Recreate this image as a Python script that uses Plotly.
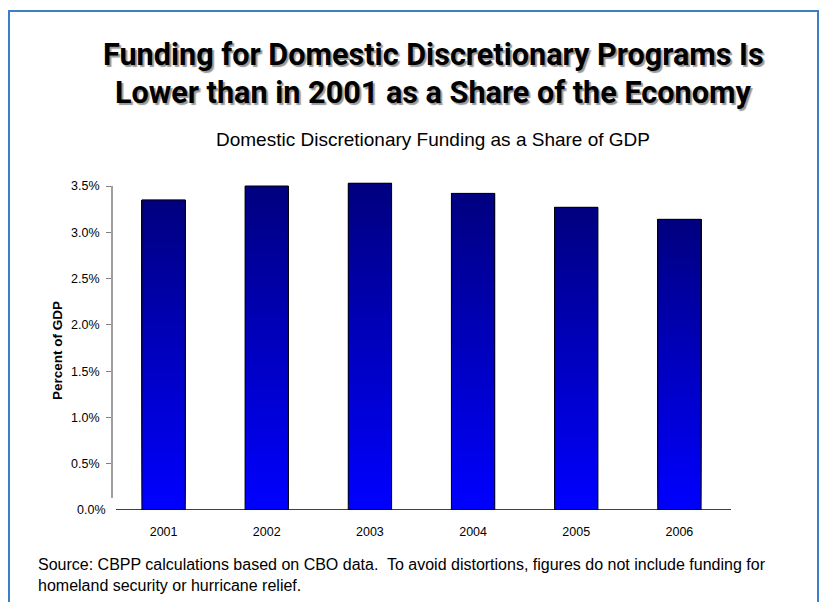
import plotly.graph_objects as go

W, H = 819, 602

years = ["2001", "2002", "2003", "2004", "2005", "2006"]
share_of_gdp = [3.35, 3.50, 3.53, 3.42, 3.27, 3.14]
tick_vals = [0.5, 1.0, 1.5, 2.0, 2.5, 3.0, 3.5]
tick_text = ["0.5%", "1.0%", "1.5%", "2.0%", "2.5%", "3.0%", "3.5%"]

title_line1 = "Funding for Domestic Discretionary Programs Is"
title_line2 = "Lower than in 2001 as a Share of the Economy"
subtitle_text = "Domestic Discretionary Funding as a Share of GDP"
y_title = "Percent of GDP"
source_text = ("Source: CBPP calculations based on CBO data.  To avoid distortions, figures do not include funding for<br>"
               "homeland security or hurricane relief.")

# pixel helpers (margins are zero, so paper == page)
def px(x):
    return x / W

def py(y):
    return 1 - y / H

plot_left, plot_right = 112, 731
y_zero_px, y_35_px = 510, 186
y_max = 3.6
px_per_unit = (y_zero_px - y_35_px) / 3.5
plot_top = y_zero_px - px_per_unit * y_max

BAR_W = 0.42
N_SLICES = 60
top_rgb = (0, 0, 128)
bot_rgb = (0, 0, 255)

fig = go.Figure()

# gradient fill: each bar is layered from its own bottom (bright) to top (navy);
# every layer reaches the bar top so no seams appear between layers
for k in range(N_SLICES):
    f = k / (N_SLICES - 1)
    r = round(bot_rgb[0] + (top_rgb[0] - bot_rgb[0]) * f)
    g = round(bot_rgb[1] + (top_rgb[1] - bot_rgb[1]) * f)
    b = round(bot_rgb[2] + (top_rgb[2] - bot_rgb[2]) * f)
    fig.add_trace(go.Bar(
        x=years,
        y=[v * (N_SLICES - k) / N_SLICES for v in share_of_gdp],
        base=[v * k / N_SLICES for v in share_of_gdp],
        width=BAR_W,
        marker=dict(color=f"rgb({r},{g},{b})", line=dict(width=0)),
        hoverinfo="skip",
        showlegend=False,
    ))

# outline bars
fig.add_trace(go.Bar(
    x=years,
    y=share_of_gdp,
    width=BAR_W,
    marker=dict(color="rgba(0,0,0,0)", line=dict(color="black", width=1)),
    showlegend=False,
    hovertemplate="%{x}: %{y:.2f}%<extra></extra>",
))

title_font = dict(family="Roboto, Liberation Sans, Arial", size=30.6, color="black",
                  weight="bold", shadow="2px 2px 1px #999")

fig.update_layout(
    width=W, height=H,
    margin=dict(l=0, r=0, t=0, b=0),
    paper_bgcolor="white",
    plot_bgcolor="white",
    barmode="overlay",
    font=dict(family="Liberation Sans, Arial, sans-serif", color="black"),
    xaxis=dict(
        domain=[px(plot_left), px(plot_right)],
        type="category",
        range=[-0.5, 5.5],
        showline=False,
        showgrid=False,
        zeroline=False,
        ticks="",
        tickfont=dict(size=12.5, color="black"),
        ticklabelstandoff=12,
        fixedrange=True,
    ),
    yaxis=dict(
        domain=[py(y_zero_px), py(plot_top)],
        range=[0, y_max],
        tickvals=tick_vals,
        ticktext=tick_text,
        showline=False,
        showgrid=False,
        zeroline=False,
        ticks="outside",
        ticklen=5,
        tickcolor="#808080",
        tickwidth=1,
        tickfont=dict(size=12.5, color="black"),
        ticklabelstandoff=4,
        fixedrange=True,
    ),
    shapes=[
        # y axis line (gray, stops short of zero like the original)
        dict(type="line", xref="paper", yref="y",
             x0=px(plot_left), x1=px(plot_left), y0=0.13, y1=3.5,
             line=dict(color="#808080", width=1.5)),
        # x axis line at zero
        dict(type="line", xref="paper", yref="y",
             x0=px(116), x1=px(plot_right), y0=0, y1=0,
             line=dict(color="black", width=1.5)),
        # outer frame
        dict(type="rect", xref="paper", yref="paper",
             x0=px(9), x1=px(818), y0=-0.02, y1=py(11),
             line=dict(color="#3b7fc4", width=2)),
    ],
    annotations=[
        dict(text=title_line1, xref="paper", yref="paper",
             x=px(433), y=py(55), xanchor="center", yanchor="middle",
             showarrow=False, font=title_font),
        dict(text=title_line2, xref="paper", yref="paper",
             x=px(433), y=py(93), xanchor="center", yanchor="middle",
             showarrow=False, font=title_font),
        dict(text=subtitle_text, xref="paper", yref="paper",
             x=px(433), y=py(140), xanchor="center", yanchor="middle",
             showarrow=False, font=dict(size=19, color="black")),
        dict(text="<b>" + y_title + "</b>", xref="paper", yref="paper",
             x=px(57), y=py(351), xanchor="center", yanchor="middle",
             textangle=-90, showarrow=False, font=dict(size=13.5, color="black")),
        dict(text="0.0%", xref="paper", yref="y",
             x=px(108), y=0, xanchor="right", yanchor="middle",
             showarrow=False, font=dict(size=12.5, color="black")),
        dict(text=source_text, xref="paper", yref="paper",
             x=px(36), y=py(575), xanchor="left", yanchor="middle",
             showarrow=False, align="left", font=dict(size=16, color="black")),
    ],
)

fig.write_html("out.html")
